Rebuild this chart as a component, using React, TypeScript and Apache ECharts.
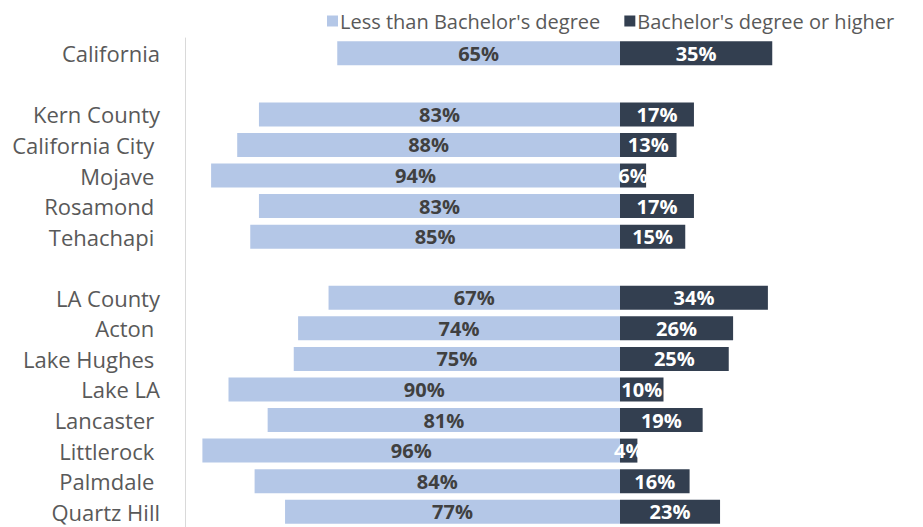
import React, { useEffect, useRef } from "react";
import * as echarts from "echarts";

const categories = [
  "California",
  "",
  "Kern County",
  "California City ",
  "Mojave ",
  "Rosamond ",
  "Tehachapi ",
  "",
  "LA County",
  "Acton ",
  "Lake Hughes ",
  "Lake LA",
  "Lancaster ",
  "Littlerock ",
  "Palmdale ",
  "Quartz Hill",
];

const lessThanBachelors = [65, null, 83, 88, 94, 83, 85, null, 67, 74, 75, 90, 81, 96, 84, 77];
const bachelorsOrHigher = [35, null, 17, 13, 6, 17, 15, null, 34, 26, 25, 10, 19, 4, 16, 23];

const seriesNames = ["Less than Bachelor's degree", "Bachelor's degree or higher"];

const FONT = "'Open Sans', Lato, sans-serif";

export default function App() {
  const ref = useRef<HTMLDivElement>(null);

  useEffect(() => {
    if (!ref.current) return;
    const chart = echarts.init(ref.current, null, { renderer: "svg" });
    chart.setOption({
      animation: false,
      backgroundColor: "#ffffff",
      legend: {
        top: 6,
        left: 322,
        itemWidth: 11,
        itemHeight: 11,
        itemGap: 24,
        icon: "rect",
        textStyle: { fontFamily: FONT, fontSize: 20, color: "#595959", padding: [0, 0, 0, -3] },
        data: seriesNames,
      },
      grid: { left: 185, right: 85.5, top: 38, height: 490, containLabel: false },
      xAxis: {
        type: "value",
        min: -100,
        max: 50,
        show: false,
        splitLine: { show: false },
      },
      yAxis: {
        type: "category",
        inverse: true,
        data: categories,
        axisLine: { show: true, onZero: false, lineStyle: { color: "#d9d9d9", width: 1 } },
        axisTick: { show: false },
        axisLabel: {
          margin: 25,
          fontFamily: FONT,
          fontSize: 22,
          color: "#595959",
        },
      },
      series: [
        {
          name: seriesNames[0],
          type: "bar",
          stack: "total",
          barWidth: 24,
          itemStyle: { color: "#b4c7e7" },
          label: {
            show: true,
            position: "inside",
            fontFamily: FONT,
            fontWeight: "bold",
            fontSize: 20,
            color: "#404040",
            formatter: (p: any) => `${Math.abs(p.value)}%`,
          },
          data: lessThanBachelors.map((v) => (v == null ? null : -v)),
        },
        {
          name: seriesNames[1],
          type: "bar",
          stack: "total",
          barWidth: 24,
          itemStyle: { color: "#333f50" },
          label: {
            show: true,
            position: "inside",
            fontFamily: FONT,
            fontWeight: "bold",
            fontSize: 20,
            color: "#ffffff",
            formatter: (p: any) => `${p.value}%`,
          },
          data: bachelorsOrHigher,
        },
      ],
    });
    return () => chart.dispose();
  }, []);

  return (
    <div
      ref={ref}
      style={{ position: "fixed", left: 0, top: 0, width: 923, height: 527, background: "#fff" }}
    />
  );
}
